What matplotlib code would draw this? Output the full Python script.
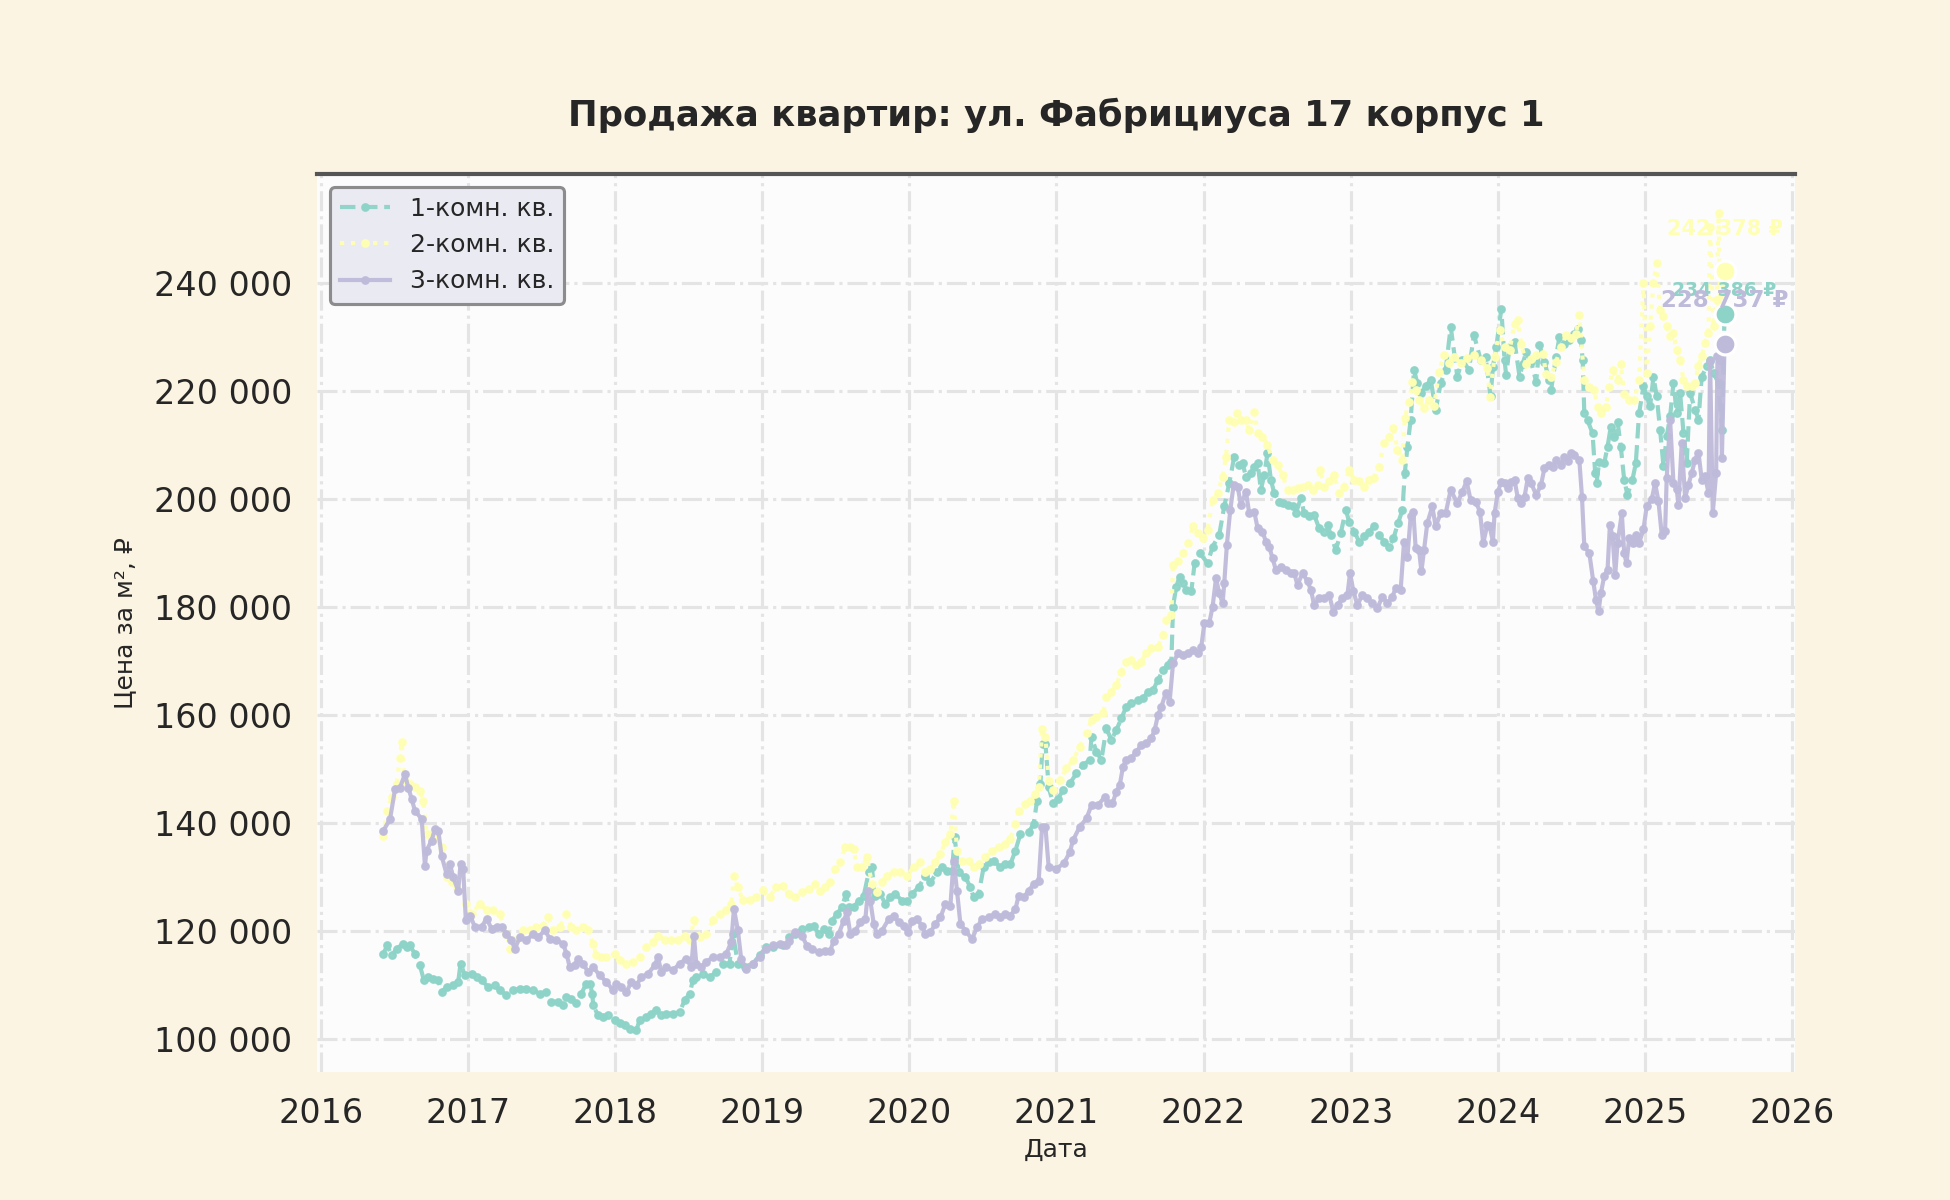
import matplotlib
matplotlib.use("Agg")
import matplotlib.pyplot as plt
from matplotlib.ticker import FuncFormatter

TITLE = "Продажа квартир: ул. Фабрициуса 17 корпус 1"
labels = ["1-комн. кв.", "2-комн. кв.", "3-комн. кв."]

# --- 1-комн. (decimal year, руб/м²)
years_1k = [
    2016.425, 2016.452, 2016.482, 2016.516, 2016.561, 2016.584, 2016.606, 2016.640, 2016.674, 2016.701,
    2016.731, 2016.765, 2016.799, 2016.821, 2016.855, 2016.900, 2016.934, 2016.950, 2016.980, 2017.025,
    2017.059, 2017.093, 2017.138, 2017.183, 2017.217, 2017.262, 2017.308, 2017.353, 2017.398, 2017.443,
    2017.489, 2017.534, 2017.568, 2017.613, 2017.647, 2017.670, 2017.704, 2017.738, 2017.771, 2017.805,
    2017.828, 2017.846, 2017.851, 2017.885, 2017.919, 2017.952, 2017.998, 2018.032, 2018.066, 2018.100,
    2018.145, 2018.167, 2018.213, 2018.247, 2018.281, 2018.314, 2018.348, 2018.394, 2018.439, 2018.473,
    2018.507, 2018.529, 2018.552, 2018.597, 2018.643, 2018.688, 2018.733, 2018.778, 2018.801, 2018.835,
    2018.880, 2018.937, 2018.982, 2019.027, 2019.072, 2019.140,
    2019.180, 2019.225, 2019.270, 2019.316, 2019.350, 2019.384, 2019.418, 2019.452, 2019.474, 2019.508,
    2019.542, 2019.569, 2019.588, 2019.622, 2019.656, 2019.690, 2019.724, 2019.746, 2019.764, 2019.803,
    2019.837, 2019.871, 2019.905, 2019.950, 2019.984, 2020.018, 2020.063, 2020.109, 2020.143, 2020.188,
    2020.222, 2020.256, 2020.290, 2020.308, 2020.335, 2020.381, 2020.415, 2020.437, 2020.471, 2020.505,
    2020.539, 2020.573, 2020.619, 2020.653, 2020.687, 2020.721, 2020.755, 2020.811, 2020.845, 2020.868,
    2020.891, 2020.906, 2020.925, 2020.947,
    2020.977, 2021.011, 2021.045, 2021.090, 2021.136, 2021.181, 2021.226, 2021.238, 2021.271, 2021.305,
    2021.339, 2021.373, 2021.407, 2021.441, 2021.475, 2021.509, 2021.554, 2021.588, 2021.622, 2021.656,
    2021.690, 2021.724, 2021.758, 2021.781, 2021.792, 2021.814, 2021.837, 2021.860, 2021.882, 2021.916,
    2021.939, 2021.973,
    2022.027, 2022.061, 2022.106, 2022.140, 2022.174, 2022.208, 2022.242, 2022.265, 2022.287, 2022.321,
    2022.344, 2022.367, 2022.389, 2022.412, 2022.434, 2022.457, 2022.480, 2022.514, 2022.536, 2022.570,
    2022.604, 2022.627, 2022.661, 2022.683, 2022.717, 2022.751, 2022.785, 2022.819, 2022.842, 2022.864,
    2022.898, 2022.932, 2022.966, 2022.989, 2023.023, 2023.057, 2023.090, 2023.124, 2023.158, 2023.192,
    2023.226, 2023.260, 2023.290, 2023.321, 2023.351, 2023.367, 2023.385, 2023.407, 2023.430, 2023.452,
    2023.475, 2023.509, 2023.543, 2023.577, 2023.611, 2023.645, 2023.679, 2023.724, 2023.758, 2023.803,
    2023.837, 2023.882, 2023.916, 2023.950,
    2023.966, 2023.989, 2024.023, 2024.045, 2024.056, 2024.079, 2024.113, 2024.147, 2024.169, 2024.192,
    2024.226, 2024.260, 2024.282, 2024.316, 2024.350, 2024.361, 2024.395, 2024.418, 2024.451, 2024.485,
    2024.519, 2024.542, 2024.564, 2024.576, 2024.587, 2024.609, 2024.643, 2024.661, 2024.670, 2024.688,
    2024.722, 2024.745, 2024.767, 2024.790, 2024.813, 2024.835, 2024.858, 2024.880, 2024.914, 2024.937,
    2024.959,
    2024.989, 2025.011, 2025.034, 2025.057, 2025.079, 2025.102, 2025.125, 2025.147, 2025.170, 2025.193,
    2025.215, 2025.238, 2025.261, 2025.283, 2025.306, 2025.340, 2025.363, 2025.385, 2025.420, 2025.442,
    2025.465, 2025.499, 2025.522, 2025.540,
]
price_1k = [
    115700, 117250, 115400, 116650, 117600, 117000, 117250, 115700, 113550, 110800,
    111400, 111100, 110800, 108650, 109550, 109850, 110500, 113900, 111700, 112000,
    111400, 110800, 109550, 109850, 108950, 108000, 108950, 109250, 109250, 108950,
    108300, 108650, 106800, 106800, 106150, 107700, 107400, 106500, 108300, 110200,
    110200, 108300, 106150, 104300, 104000, 104300, 103400, 102800, 102450, 101850,
    101550, 103400, 104000, 104600, 105250, 104300, 104600, 104600, 104900, 107100,
    108300, 110800, 111400, 112000, 111400, 112300, 113900, 113900, 119400, 113900,
    113250, 113900, 115400, 117000, 117000, 117250,
    118750, 119400, 120300, 120600, 120900, 119400, 120300, 119400, 121850, 123100,
    124350, 126800, 124350, 124350, 125550, 126500, 130800, 131750, 126500, 126800,
    124950, 126200, 126800, 125550, 125550, 126800, 128050, 130200, 129000, 130800,
    131750, 131100, 131100, 137300, 130800, 129900, 128050, 126200, 126800, 131750,
    132700, 133000, 131750, 132350, 132350, 134850, 137950, 138250, 139800, 144100,
    147200, 154650, 154650, 146600,
    143600, 144500, 146050, 147300, 149150, 150700, 151650, 155950, 153200, 151650,
    157500, 155350, 157200, 159350, 161550, 162150, 162750, 163100, 164300, 164600,
    166500, 168350, 169250, 169900, 180100, 183800, 185650, 184400, 183200, 182900,
    188150, 190000,
    188150, 191200, 193400, 198650, 202950, 207900, 206350, 206700, 204200, 204800,
    206050, 206700, 201750, 204500, 208550, 203600, 201100, 199550, 199250, 198950,
    198650, 197400, 200200, 197400, 196800, 197100, 194600, 194000, 195250, 193400,
    190600, 193700, 198000, 195850, 194000, 192150, 193100, 194000, 194950, 193400,
    192150, 191200, 192750, 195550, 198000, 204800, 209750, 214700, 224000, 221500,
    219650, 220900, 222150, 216550, 221500, 224000, 232000, 222750, 225850, 224000,
    230500, 225850, 226450, 219050,
    224550, 228250, 235300, 225750, 223000, 228250, 229150, 222700, 225150, 227300,
    225450, 221750, 228550, 225450, 222050, 220200, 226400, 230100, 228850, 229450,
    230700, 231600, 229450, 225750, 215900, 214650, 212200, 204800, 202950, 206950,
    206650, 209750, 213450, 211600, 214350, 209750, 203600, 200800, 203600, 206650,
    215900,
    220900, 219050, 217200, 222750, 219050, 212900, 206100, 211650, 215350, 221550,
    216000, 219700, 212300, 206750, 219700, 216600, 214750, 222750, 224650, 225850,
    223400, 221550, 212900, 234386,
]

# --- 2-комн.
years_2k = [
    2016.425, 2016.448, 2016.482, 2016.516, 2016.538, 2016.550, 2016.572, 2016.606, 2016.640, 2016.674,
    2016.697, 2016.719, 2016.753, 2016.787, 2016.821, 2016.855, 2016.889, 2016.923, 2016.957, 2016.986,
    2017.025, 2017.081, 2017.127, 2017.172, 2017.217, 2017.262, 2017.285, 2017.330, 2017.376, 2017.421,
    2017.466, 2017.511, 2017.545, 2017.579, 2017.624, 2017.670, 2017.704, 2017.738, 2017.783, 2017.817,
    2017.851, 2017.873, 2017.907, 2017.941, 2017.998, 2018.032, 2018.077, 2018.122, 2018.167, 2018.213,
    2018.258, 2018.292, 2018.337, 2018.382, 2018.428, 2018.473, 2018.507, 2018.536, 2018.575, 2018.620,
    2018.665, 2018.710, 2018.756, 2018.790, 2018.808, 2018.835, 2018.869, 2018.914, 2018.959, 2019.005,
    2019.050, 2019.095, 2019.140,
    2019.180, 2019.225, 2019.270, 2019.316, 2019.361, 2019.395, 2019.429, 2019.463, 2019.497, 2019.531,
    2019.565, 2019.599, 2019.622, 2019.644, 2019.678, 2019.712, 2019.746, 2019.780, 2019.814, 2019.848,
    2019.893, 2019.939, 2019.984, 2020.029, 2020.075, 2020.109, 2020.143, 2020.177, 2020.211, 2020.245,
    2020.279, 2020.301, 2020.324, 2020.358, 2020.403, 2020.437, 2020.471, 2020.517, 2020.562, 2020.607,
    2020.653, 2020.687, 2020.721, 2020.743, 2020.789, 2020.823, 2020.857, 2020.879, 2020.902, 2020.925,
    2020.947,
    2020.977, 2021.023, 2021.068, 2021.113, 2021.158, 2021.204, 2021.238, 2021.271, 2021.317, 2021.339,
    2021.373, 2021.407, 2021.441, 2021.475, 2021.509, 2021.543, 2021.577, 2021.611, 2021.645, 2021.690,
    2021.724, 2021.747, 2021.781, 2021.792, 2021.826, 2021.860, 2021.894, 2021.928, 2021.962, 2021.995,
    2022.027, 2022.061, 2022.095, 2022.129, 2022.152, 2022.174, 2022.204, 2022.226, 2022.253, 2022.287,
    2022.310, 2022.344, 2022.367, 2022.400, 2022.434, 2022.468, 2022.502, 2022.536, 2022.570, 2022.604,
    2022.638, 2022.672, 2022.706, 2022.740, 2022.774, 2022.792, 2022.819, 2022.853, 2022.887, 2022.921,
    2022.955, 2022.989, 2023.023, 2023.057, 2023.090, 2023.124, 2023.158, 2023.192, 2023.226, 2023.260,
    2023.290, 2023.317, 2023.351, 2023.367, 2023.396, 2023.419, 2023.441, 2023.464, 2023.498, 2023.532,
    2023.566, 2023.600, 2023.633, 2023.667, 2023.701, 2023.747, 2023.792, 2023.837, 2023.882, 2023.928,
    2023.944, 2023.977, 2024.011, 2024.045, 2024.079, 2024.113, 2024.135, 2024.158, 2024.192, 2024.226,
    2024.260, 2024.305, 2024.327, 2024.361, 2024.395, 2024.429, 2024.463, 2024.497, 2024.530, 2024.553,
    2024.587, 2024.621, 2024.655, 2024.677, 2024.700, 2024.734, 2024.756, 2024.779, 2024.813, 2024.835,
    2024.858, 2024.892, 2024.926, 2024.959,
    2024.989, 2025.011, 2025.034, 2025.057, 2025.079, 2025.102, 2025.125, 2025.147, 2025.170, 2025.193,
    2025.215, 2025.238, 2025.261, 2025.283, 2025.317, 2025.340, 2025.363, 2025.385, 2025.408, 2025.431,
    2025.442, 2025.465, 2025.488, 2025.499, 2025.510, 2025.540,
]
price_2k = [
    137600, 142250, 144700, 147200, 152100, 154900, 147800, 147200, 146550, 145950,
    144050, 137900, 137900, 137000, 135450, 129900, 129000, 128000, 131150, 124950,
    123100, 124950, 123750, 123750, 123100, 119400, 116650, 118200, 120050, 120050,
    120650, 120950, 122500, 120050, 120650, 123100, 120650, 120050, 120650, 120050,
    117600, 115400, 115100, 115100, 115700, 114500, 113900, 114200, 115100, 117000,
    117900, 119100, 118200, 118200, 118200, 119100, 118200, 121900, 118800, 119400,
    121900, 123100, 123750, 124950, 130200, 128050, 125600, 125600, 126200, 127450,
    126200, 128050, 128350,
    126800, 126200, 127100, 127750, 128650, 127400, 128050, 129000, 131450, 132700,
    135450, 135450, 135150, 131750, 131750, 133600, 128650, 127100, 129000, 130200,
    130800, 130800, 130200, 131750, 132700, 130800, 131450, 132700, 134200, 136400,
    137950, 144100, 134850, 133000, 133000, 131750, 132350, 133600, 134850, 135450,
    136100, 137000, 139800, 142250, 143500, 144100, 145350, 146600, 157400, 155900,
    147800,
    146050, 147900, 150100, 151650, 154100, 156600, 159050, 159700, 160300, 163400,
    164300, 165550, 168000, 169900, 170200, 169250, 169900, 171450, 172350, 172650,
    174850, 177600, 178550, 187850, 188450, 190000, 191850, 194950, 193700, 192800,
    194300, 199900, 201100, 204200, 207900, 214700, 214400, 215950, 214700, 214700,
    212850, 216250, 212250, 211600, 210050, 207300, 206350, 204500, 201750, 201750,
    202050, 202350, 202650, 201750, 202650, 205450, 202350, 203300, 204500, 201100,
    202350, 205450, 203600, 203300, 202350, 203600, 203900, 206050, 210400, 211600,
    213150, 209150, 207300, 215000, 218100, 221800, 220250, 218400, 216900, 218400,
    217200, 223650, 226750, 225200, 226450, 225200, 226150, 226750, 225850, 224300,
    219000, 226400, 231300, 228250, 227600, 232550, 233150, 228850, 225150, 226050,
    226700, 227000, 223300, 222700, 225450, 228250, 230400, 229800, 230700, 234100,
    222050, 220850, 220200, 217150, 215900, 217150, 220850, 223900, 222050, 225150,
    219600, 218350, 218350, 222050,
    240050, 223400, 232050, 240050, 243750, 235100, 233900, 232050, 230200, 230800,
    227700, 225850, 222150, 220900, 220900, 221550, 224650, 226500, 228950, 230800,
    250550, 232050, 237000, 253000, 235750, 242378,
]

# --- 3-комн.
years_3k = [
    2016.425, 2016.471, 2016.505, 2016.538, 2016.572, 2016.595, 2016.618, 2016.640, 2016.686, 2016.708,
    2016.719, 2016.753, 2016.776, 2016.799, 2016.821, 2016.855, 2016.878, 2016.900, 2016.934, 2016.950,
    2016.968, 2016.986, 2017.014, 2017.048, 2017.093, 2017.127, 2017.161, 2017.195, 2017.229, 2017.262,
    2017.296, 2017.319, 2017.353, 2017.398, 2017.443, 2017.477, 2017.523, 2017.557, 2017.602, 2017.647,
    2017.670, 2017.692, 2017.726, 2017.749, 2017.783, 2017.817, 2017.851, 2017.896, 2017.941, 2017.986,
    2018.009, 2018.043, 2018.077, 2018.111, 2018.145, 2018.179, 2018.224, 2018.269, 2018.292, 2018.314,
    2018.348, 2018.394, 2018.439, 2018.484, 2018.518, 2018.536, 2018.552, 2018.586, 2018.620, 2018.665,
    2018.710, 2018.756, 2018.790, 2018.808, 2018.835, 2018.857, 2018.891, 2018.937, 2018.982, 2019.027,
    2019.072, 2019.118, 2019.163,
    2019.180, 2019.225, 2019.270, 2019.304, 2019.338, 2019.384, 2019.429, 2019.463, 2019.486, 2019.520,
    2019.554, 2019.576, 2019.599, 2019.633, 2019.667, 2019.701, 2019.719, 2019.735, 2019.758, 2019.780,
    2019.814, 2019.860, 2019.893, 2019.927, 2019.961, 2019.991, 2020.018, 2020.052, 2020.086, 2020.109,
    2020.143, 2020.177, 2020.211, 2020.245, 2020.279, 2020.301, 2020.324, 2020.347, 2020.381, 2020.426,
    2020.460, 2020.494, 2020.539, 2020.585, 2020.619, 2020.653, 2020.687, 2020.721, 2020.743, 2020.777,
    2020.811, 2020.845, 2020.879, 2020.902, 2020.925, 2020.947,
    2021.000, 2021.050, 2021.090, 2021.113, 2021.158, 2021.204, 2021.238, 2021.283, 2021.328, 2021.351,
    2021.380, 2021.407, 2021.430, 2021.452, 2021.475, 2021.509, 2021.543, 2021.577, 2021.611, 2021.645,
    2021.667, 2021.690, 2021.713, 2021.742, 2021.769, 2021.792, 2021.826, 2021.860, 2021.894, 2021.928,
    2021.962, 2021.984,
    2022.005, 2022.038, 2022.061, 2022.084, 2022.106, 2022.129, 2022.140, 2022.158, 2022.181, 2022.204,
    2022.231, 2022.253, 2022.287, 2022.310, 2022.344, 2022.367, 2022.400, 2022.423, 2022.446, 2022.468,
    2022.491, 2022.525, 2022.559, 2022.593, 2022.615, 2022.638, 2022.672, 2022.706, 2022.729, 2022.751,
    2022.785, 2022.819, 2022.853, 2022.882, 2022.910, 2022.943, 2022.977, 2022.995, 2023.018, 2023.045,
    2023.079, 2023.113, 2023.147, 2023.181, 2023.215, 2023.249, 2023.283, 2023.305, 2023.339, 2023.362,
    2023.385, 2023.407, 2023.425, 2023.441, 2023.464, 2023.480, 2023.498, 2023.520, 2023.554, 2023.577,
    2023.611, 2023.645, 2023.679, 2023.724, 2023.758, 2023.787, 2023.814, 2023.848, 2023.878, 2023.900,
    2023.928,
    2023.944, 2023.966, 2023.977, 2024.000, 2024.023, 2024.045, 2024.068, 2024.090, 2024.113, 2024.135,
    2024.158, 2024.181, 2024.203, 2024.226, 2024.260, 2024.293, 2024.316, 2024.350, 2024.372, 2024.395,
    2024.429, 2024.451, 2024.474, 2024.497, 2024.519, 2024.553, 2024.571, 2024.587, 2024.621, 2024.648,
    2024.666, 2024.684, 2024.700, 2024.722, 2024.745, 2024.761, 2024.779, 2024.797, 2024.813, 2024.842,
    2024.858, 2024.874, 2024.892, 2024.919, 2024.937, 2024.959,
    2024.989, 2025.011, 2025.045, 2025.068, 2025.091, 2025.113, 2025.136, 2025.147, 2025.170, 2025.193,
    2025.215, 2025.227, 2025.249, 2025.272, 2025.295, 2025.317, 2025.340, 2025.363, 2025.385, 2025.408,
    2025.431, 2025.442, 2025.460, 2025.483, 2025.492, 2025.510, 2025.522, 2025.540,
]
price_3k = [
    138500, 140700, 146250, 146500, 149000, 146500, 144400, 142250, 140700, 132000,
    134850, 136700, 138850, 138500, 133900, 130500, 132400, 129900, 127400, 132400,
    131450, 121900, 122800, 120700, 120700, 122250, 120350, 120700, 120700, 119400,
    118200, 116650, 118800, 118200, 119400, 118800, 120050, 118500, 118200, 117600,
    115700, 113250, 113550, 114800, 113900, 112300, 113250, 111700, 110500, 108950,
    110200, 109550, 108600, 110500, 109900, 111400, 112000, 113550, 115100, 112300,
    113250, 112650, 113900, 114800, 113250, 119100, 113900, 113250, 114200, 115100,
    115100, 115700, 117900, 124050, 120050, 114800, 112950, 113900, 115100, 116650,
    117250, 117600, 117250,
    118150, 119700, 119100, 117200, 116600, 116000, 116300, 116300, 118150, 119400,
    121850, 123400, 119400, 120000, 121550, 122150, 127400, 125550, 121250, 119400,
    120000, 122150, 122800, 121550, 120900, 119700, 121850, 122150, 120900, 119400,
    119700, 121250, 122450, 124950, 124650, 133000, 127400, 121250, 120000, 118450,
    120600, 122150, 122450, 123100, 122450, 123100, 122800, 124000, 126500, 126200,
    127400, 128650, 129300, 139200, 139200, 131750,
    131500, 132500, 134500, 136800, 139250, 140800, 143300, 143300, 144800, 143600,
    143600, 145750, 147000, 150400, 151650, 151950, 153200, 154400, 154750, 155650,
    157200, 160000, 161550, 164000, 162450, 169550, 171450, 171100, 171450, 172050,
    171450, 172650,
    177000, 177000, 180100, 185350, 182600, 180700, 184400, 191550, 198000, 202650,
    202350, 198950, 201400, 197400, 197700, 194600, 194000, 192150, 191200, 189050,
    186900, 187500, 186900, 186300, 186300, 184100, 186300, 184750, 183200, 180400,
    181650, 181650, 182250, 179150, 180400, 181650, 182250, 186300, 182900, 180400,
    182250, 181650, 180700, 179800, 181950, 180700, 181950, 183500, 183200, 192150,
    189350, 196800, 197700, 190900, 190600, 186600, 190600, 195550, 198650, 194950,
    197400, 197400, 201750, 199250, 201400, 203300, 199900, 199550, 197700, 191850,
    195250,
    194950, 192150, 197400, 201400, 203250, 202950, 202050, 203250, 203600, 200200,
    199250, 200500, 203900, 202950, 200800, 202650, 205750, 206350, 206050, 207300,
    206350, 207900, 207000, 208500, 208200, 207300, 200500, 191250, 190000, 184750,
    181400, 179250, 182600, 185700, 186950, 195250, 193100, 186000, 191850, 197400,
    190000, 188150, 192800, 191850, 193400, 191850,
    194400, 198700, 199950, 203000, 199600, 193450, 194050, 203950, 214750, 203000,
    201800, 199000, 210450, 200250, 202700, 204850, 207350, 208600, 203650, 204250,
    201150, 225550, 197450, 204850, 226500, 225850, 207650, 228737,
]

series = [(years_1k, price_1k), (years_2k, price_2k), (years_3k, price_3k)]
colors = ["#8dd3c7", "#ffffb3", "#bebada"]
line_styles = ["--", ":", "-"]
label_sizes = [9, 10, 11]
label_offsets = [11, 20, 21]

fig = plt.figure(figsize=(13, 8), dpi=150, facecolor="#fbf4e2")
ax = fig.add_axes([0.1626, 0.1067, 0.758, 0.7483])
ax.set_facecolor("#fcfcfd")

for (yrs, vals), lab, col, ls in zip(series, labels, colors, line_styles):
    ax.plot(yrs, vals, ls=ls, lw=2.0, marker="o", ms=3.2, color=col, alpha=0.95, label=lab)

# last value: big dot + caption
for (yrs, vals), col, fs, off in zip(series, colors, label_sizes, label_offsets):
    ax.plot(yrs[-1], vals[-1], "o", ms=10, color=col, mec="white", mew=1.5, zorder=6)
    ax.annotate(f"{vals[-1]:,} ₽".replace(",", " "), (yrs[-1], vals[-1]),
                xytext=(0, off), textcoords="offset points",
                ha="center", va="center", fontsize=fs, fontweight="bold",
                color=col, zorder=7)

ax.set_xlim(2015.975, 2026.02)
ax.set_ylim(93800, 260300)
ax.set_xticks(range(2016, 2027))
ax.set_yticks(range(100000, 240001, 20000))
ax.xaxis.set_major_formatter(FuncFormatter(lambda v, p: f"{int(round(v))}"))
ax.yaxis.set_major_formatter(FuncFormatter(lambda v, p: f"{int(v):,}".replace(",", " ")))
ax.tick_params(length=0, pad=12, labelsize=16, colors="#262626")

ax.grid(True, color="#e4e4e4", ls="-.", lw=1.5)
ax.set_axisbelow(True)

for s in ["left", "right", "bottom"]:
    ax.spines[s].set_visible(False)
ax.spines["top"].set_color("#555555")
ax.spines["top"].set_linewidth(2)

ax.set_title(TITLE, fontsize=17, fontweight="bold", pad=23, color="#262626")
ax.set_xlabel("Дата", fontsize=12, labelpad=4, color="#262626")
ax.set_ylabel("Цена за м², ₽", fontsize=12, color="#262626")
ax.yaxis.set_label_coords(-0.122, 0.5)

leg = ax.legend(loc="upper left", fontsize=12, facecolor="#eaeaf2",
                edgecolor="#8c8c8c", framealpha=1, fancybox=True)
leg.get_frame().set_linewidth(1.5)
for t in leg.get_texts():
    t.set_color("#262626")

fig.savefig("out.png", dpi=150, facecolor=fig.get_facecolor())
